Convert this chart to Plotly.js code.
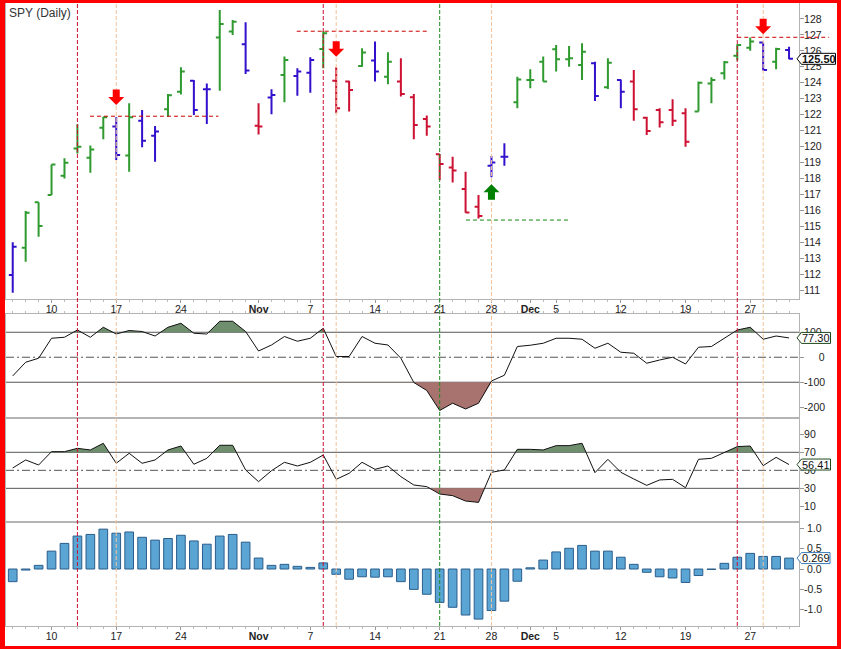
<!DOCTYPE html>
<html><head><meta charset="utf-8">
<script src="https://cdn.plot.ly/plotly-3.0.1.min.js"></script>
<style>
html,body{margin:0;padding:0;background:#fff;}
#wrap{position:relative;width:841px;height:649px;overflow:hidden;}
#chart{width:841px;height:649px;}
#frame{position:absolute;left:0;top:0;width:841px;height:649px;box-sizing:border-box;border-style:solid;border-color:#f00;border-width:3px 4px 3px 5px;pointer-events:none;}
</style></head><body>
<div id="wrap"><div id="chart"></div><div id="frame"></div></div>
<script>
// ---- data: SPY daily, 2011-10-05 .. 2011-12-30 (trading-day index 0..60)
const tickIdx  = [3, 8, 13, 19, 23, 28, 33, 37, 40, 42, 47, 52, 57];
const tickText = ['10','17','24','<b>Nov</b>','7','14','21','28','<b>Dec</b>','5','12','19','27'];
const priceTicks = [111,112,113,114,115,116,117,118,119,120,121,122,123,124,125,126,127,128];

const opens = [111.94,113.65,116.50,116.96,118.17,119.87,119.30,121.18,121.25,119.43,
  121.62,120.68,122.33,123.44,124.13,123.59,126.83,127.21,126.41,121.31,
  123.07,124.49,124.42,124.63,126.12,124.13,124.07,125.05,125.39,124.38,
  124.07,123.09,121.73,119.51,118.69,117.34,116.23,118.80,119.36,122.77,
  124.17,125.32,126.10,125.47,125.11,125.22,123.71,124.17,124.07,121.81,
  122.29,122.29,122.08,122.19,123.96,124.59,125.70,126.20,126.52,125.32,126.06];
const highs = [113.99,115.95,116.50,118.88,119.26,121.39,120.07,121.87,121.83,122.71,
  122.29,121.29,123.29,124.97,124.17,123.96,128.56,127.94,127.79,122.71,
  123.59,125.64,124.91,125.60,127.23,124.97,124.13,126.16,126.58,125.91,
  125.53,123.29,121.94,119.53,119.36,118.42,116.96,119.41,120.20,124.38,
  124.84,125.64,126.37,126.31,126.47,125.32,125.53,124.21,124.80,121.87,
  122.40,122.96,122.40,124.07,124.34,125.37,126.41,126.83,126.52,126.20,126.26];
const lows = [110.83,112.78,114.34,116.96,118.00,119.57,118.36,120.45,119.15,118.42,
  119.95,119.05,121.87,123.27,121.98,121.41,123.50,127.00,124.55,120.76,
  122.02,122.77,123.19,123.38,124.91,122.08,122.19,125.01,124.07,123.90,
  123.13,120.45,120.68,117.90,117.75,115.85,115.49,118.07,118.80,122.40,
  123.65,124.07,124.70,125.01,124.17,122.86,123.61,122.40,121.62,120.72,
  121.20,121.29,119.99,122.19,122.71,124.21,125.39,126.01,124.76,124.84,125.47];
const closes = [113.72,115.85,115.01,118.88,118.99,119.99,119.82,121.83,119.47,121.83,
  120.37,120.95,123.21,124.70,122.29,123.59,127.69,127.83,124.76,121.25,
  123.23,125.43,124.70,125.43,127.10,122.40,123.55,125.89,124.70,125.32,
  123.29,121.35,121.25,118.90,118.49,115.87,115.64,119.00,119.36,124.21,
  124.17,124.07,125.47,125.53,125.95,123.17,125.26,123.44,122.33,120.97,
  121.52,121.62,120.30,124.00,124.17,125.28,126.37,126.58,124.80,126.12,125.50];
// impulse colour of each bar: g = green, b = blue, r = red
const impulse = ['b','g','g','g','g','g','g','g','b','g',
  'b','b','g','g','b','b','g','g','b','r',
  'b','g','b','b','g','r','r','g','b','g',
  'r','r','r','r','r','r','r','b','b','g',
  'g','g','g','g','g','b','g','b','r','r',
  'r','r','r','g','g','g','g','g','b','g','b'];

const cci = [-74.7,-20,-4,76,80,109,80,120,93,107,
  103,85,120,136,96,93,144,144,103,25,
  49,83,64,76,116,3,3,83,56,49,
  -4,-101,-133,-213,-184,-207,-184,-95,-72,43,
  48,56,76,76,72,36,56,20,16,-24,
  -11,0,-27,40,43,76,109,120,72,85,77.3];
const rsi = [52.6,61.5,55.9,70.7,70.7,74.4,72.6,80,57.8,68.9,
  57.8,61.5,72.6,77,56.7,63.3,77.8,77.8,50.4,37.4,
  49.6,58.9,54.8,58.9,67,40,46.7,58.9,51.1,54.8,
  43,33.7,31.9,23.7,21.9,15.9,14.4,47.8,50.4,73.3,
  73.3,72.6,77.4,77.4,80,47.4,62.2,47.8,40.4,33.3,
  39.3,40,30.7,62.2,63.3,70,76.3,77,55.2,64.4,56.41];
const macdHist = [-0.31,-0.025,0.09,0.44,0.63,0.81,0.85,0.98,0.88,0.91,
  0.78,0.71,0.75,0.83,0.69,0.61,0.81,0.85,0.66,0.27,
  0.09,0.115,0.066,0.04,0.15,-0.13,-0.25,-0.19,-0.2,-0.19,
  -0.31,-0.5,-0.62,-0.82,-0.94,-1.13,-1.23,-1.02,-0.79,-0.30,
  0.03,0.22,0.42,0.51,0.58,0.44,0.44,0.29,0.115,-0.08,
  -0.19,-0.22,-0.33,-0.16,-0.01,0.14,0.29,0.385,0.31,0.31,0.269];

// signals
const redSignalIdx = [5, 24, 56];
const orangeSignalIdx = [8, 25, 37, 58];
const greenSignalIdx = [33];
const arrowIdx = [8, 25, 37, 58];
const arrowTip = [122.6, 125.63, 117.63, 127.04];
const arrowDir = ['down','down','up','down'];
const levelY  = [121.9, 127.23, 115.39, 126.85];
const levelX0 = [5.97, 21.95, 35.03, 56.0];
const levelX1 = [15.9, 32.0, 43.07, 63.1];
const levelCol = ['r','r','g','r'];
const cciLevels = [100, 0, -100];
const rsiLevels = [70, 50, 30];

// ---- styling
const FONT = 'Arial, "Liberation Sans", sans-serif';
const COL = {g:'#2f9a2f', b:'#3311cc', r:'#cc1133'};
const XR = [-0.52, 60.77];
const idx = opens.map((_, i) => i);

const traces = [];
['g','b','r'].forEach(k => {
  const sel = idx.filter(i => impulse[i] === k);
  traces.push({type:'ohlc', xaxis:'x', yaxis:'y',
    x: sel, open: sel.map(i=>opens[i]), high: sel.map(i=>highs[i]),
    low: sel.map(i=>lows[i]), close: sel.map(i=>closes[i]),
    tickwidth: 0.3, hoverinfo:'skip',
    increasing:{line:{color:COL[k], width:2}},
    decreasing:{line:{color:COL[k], width:2}}});
});

function clipPoly(xs, ys, level, above) {
  const px = [], py = [];
  for (let i = 0; i < xs.length; i++) {
    const y = ys[i];
    px.push(xs[i]); py.push(above ? Math.max(y, level) : Math.min(y, level));
    if (i < xs.length - 1) {
      const y2 = ys[i+1];
      if ((y - level) * (y2 - level) < 0) {
        const t = (level - y) / (y2 - y);
        px.push(xs[i] + t * (xs[i+1] - xs[i])); py.push(level);
      }
    }
  }
  const rx = px.slice().reverse();
  return {x: px.concat(rx), y: py.concat(rx.map(() => level))};
}
function addFill(xa, ya, vals, level, above, color) {
  const p = clipPoly(idx, vals, level, above);
  traces.push({type:'scatter', mode:'lines', xaxis:xa, yaxis:ya, x:p.x, y:p.y,
    fill:'toself', fillcolor:color, line:{width:0}, hoverinfo:'skip'});
}
const GF = '#6e8e6e', RF = '#a8736e';
addFill('x2','y2', cci, 100, true, GF);
addFill('x2','y2', cci, -100, false, RF);
traces.push({type:'scatter', mode:'lines', xaxis:'x2', yaxis:'y2', x:idx, y:cci,
  line:{color:'#111', width:1}, hoverinfo:'skip'});
addFill('x3','y3', rsi, 70, true, GF);
addFill('x3','y3', rsi, 30, false, RF);
traces.push({type:'scatter', mode:'lines', xaxis:'x3', yaxis:'y3', x:idx, y:rsi,
  line:{color:'#111', width:1}, hoverinfo:'skip'});
traces.push({type:'bar', xaxis:'x4', yaxis:'y4', x:idx, y:macdHist, width:0.67,
  marker:{color:'#5aa5d3', line:{color:'#2b5d8c', width:1}}, hoverinfo:'skip'});

// ---- axes
const LINE = '#b4b4b4';
const TF = {family:FONT, size:10.5, color:'#222'};
const xBase = {range:XR, showgrid:false, zeroline:false, showline:true, linecolor:LINE,
  mirror:true, fixedrange:true, rangeslider:{visible:false}};
const minorT = {tickmode:'linear', tick0:0, dtick:1, ticks:'outside', ticklen:2, tickcolor:'#bbb'};
const xLab = Object.assign({}, xBase, {tickmode:'array', tickvals:tickIdx, ticktext:tickText,
  ticks:'outside', ticklen:3, tickcolor:'#999', tickfont:TF, minor:minorT, ticklabelstandoff:-3});
const yBase = {side:'right', showgrid:false, zeroline:false, showline:true, linecolor:LINE,
  mirror:true, ticks:'outside', ticklen:4, tickcolor:'#999', tickfont:TF, fixedrange:true,
  tickmode:'array', ticklabelstandoff:-2};

const layout = {
  width:841, height:649, margin:{l:6, r:42, t:3, b:23, pad:0},
  paper_bgcolor:'#fff', plot_bgcolor:'#fff', showlegend:false, hovermode:false,
  font:{family:FONT, color:'#222'}, bargap:0,
  xaxis: Object.assign({}, xLab, {anchor:'y'}),
  xaxis2: Object.assign({}, xBase, {anchor:'y2', side:'top', tickmode:'array', tickvals:tickIdx,
    ticks:'outside', ticklen:3, tickcolor:'#999', showticklabels:false, minor:minorT}),
  xaxis3: Object.assign({}, xBase, {anchor:'y3', ticks:'', showticklabels:false}),
  xaxis4: Object.assign({}, xLab, {anchor:'y4'}),
  yaxis: Object.assign({}, yBase, {anchor:'x', domain:[0.5249,1], range:[110.44,129.0], tickvals:priceTicks}),
  yaxis2: Object.assign({}, yBase, {anchor:'x2', domain:[0.3339,0.5008], range:[-243,173],
    tickvals:[100,0,-100,-200], ticktext:['100','&nbsp;&nbsp;&nbsp;&nbsp;&nbsp;0','-100','-200']}),
  yaxis3: Object.assign({}, yBase, {anchor:'x3', domain:[0.1669,0.3339], range:[-7.4,108.1],
    tickvals:[90,70,50,30,10]}),
  yaxis4: Object.assign({}, yBase, {anchor:'x4', domain:[0,0.1669], range:[-1.40,1.155],
    tickvals:[1,0.5,0,-0.5,-1], ticktext:['&nbsp;1.0','&nbsp;0.5','&nbsp;0.0','-0.5','-1.0']}),
  shapes:[], annotations:[]
};

// reference levels in CCI / RSI
cciLevels.forEach(v => layout.shapes.push({type:'line', layer:'below', xref:'x2 domain', x0:0, x1:1,
  yref:'y2', y0:v, y1:v, line:{color:'#555', width:1, dash: v === 0 ? '8px,3px,2px,3px' : 'solid'}}));
rsiLevels.forEach(v => layout.shapes.push({type:'line', layer:'below', xref:'x3 domain', x0:0, x1:1,
  yref:'y3', y0:v, y1:v, line:{color:'#555', width:1, dash: v === 50 ? '8px,3px,2px,3px' : 'solid'}}));

// vertical signal lines through all panels
function vline(i, color) {
  layout.shapes.push({type:'line', layer:'above', xref:'x', x0:i, x1:i, yref:'paper', y0:0, y1:1,
    line:{color:color, width:1, dash:'4px,2px'}});
}
orangeSignalIdx.forEach(i => vline(i, '#f3c39a'));
redSignalIdx.forEach(i => vline(i, '#cc1030'));
greenSignalIdx.forEach(i => vline(i, '#1f8a1f'));

// horizontal signal levels in price panel
const toPaper = v => (v - XR[0]) / (XR[1] - XR[0]);
levelY.forEach((y, k) => layout.shapes.push({type:'line', layer:'above', xref:'paper',
  x0:toPaper(levelX0[k]), x1:toPaper(levelX1[k]), yref:'y', y0:y, y1:y,
  line:{color: levelCol[k] === 'r' ? '#cc0000' : '#118811', width:1, dash:'4px,3px'}}));

// arrows
arrowIdx.forEach((i, k) => {
  const s = arrowDir[k] === 'down' ? 1 : -1;
  const p = [[-3.5,15.5],[3.5,15.5],[3.5,8],[8,8],[0,0],[-8,8],[-3.5,8]]
    .map((q, j) => (j ? 'L' : 'M') + q[0] + ',' + (s*q[1])).join(' ') + ' Z';
  layout.shapes.push({type:'path', layer:'above', xref:'x', yref:'y', xsizemode:'pixel', ysizemode:'pixel',
    xanchor:i, yanchor:arrowTip[k], path:p, fillcolor: s > 0 ? '#ff0000' : '#008000', line:{width:0}});
});

// last-value tags
function tag(yref, yv, text, w, border, bold) {
  const p = `M-2,0 L2.5,5.5 L${w},5.5 L${w},-5.5 L2.5,-5.5 Z`;
  layout.shapes.push({type:'path', layer:'above', xref:'paper', yref:yref, xsizemode:'pixel', ysizemode:'pixel',
    xanchor:1, yanchor:yv, path:p, fillcolor:'#fff', line:{color:border, width:1}});
  layout.annotations.push({xref:'paper', x:1, xanchor:'center', xshift:(2.5+w)/2, yref:yref, y:yv,
    yanchor:'middle', showarrow:false, text: bold ? '<b>'+text+'</b>' : text,
    font:{family:FONT, size:11, color:'#111'}});
}
tag('y', closes[closes.length-1], closes[closes.length-1].toFixed(2), 36.5, '#000', true);
tag('y2', cci[cci.length-1], cci[cci.length-1].toFixed(2), 31.5, '#1d4a1d', false);
tag('y3', rsi[rsi.length-1], rsi[rsi.length-1].toFixed(2), 31.5, '#1d4a1d', false);
tag('y4', macdHist[macdHist.length-1], macdHist[macdHist.length-1].toFixed(3), 31, '#3a7ab8', false);

layout.annotations.push({xref:'paper', yref:'paper', x:0, y:1, xanchor:'left', yanchor:'top',
  xshift:1, yshift:-1, showarrow:false, text:'SPY (Daily)', font:{family:FONT, size:12, color:'#333'}});

Plotly.newPlot('chart', traces, layout, {displayModeBar:false, staticPlot:true});
</script></body></html>
